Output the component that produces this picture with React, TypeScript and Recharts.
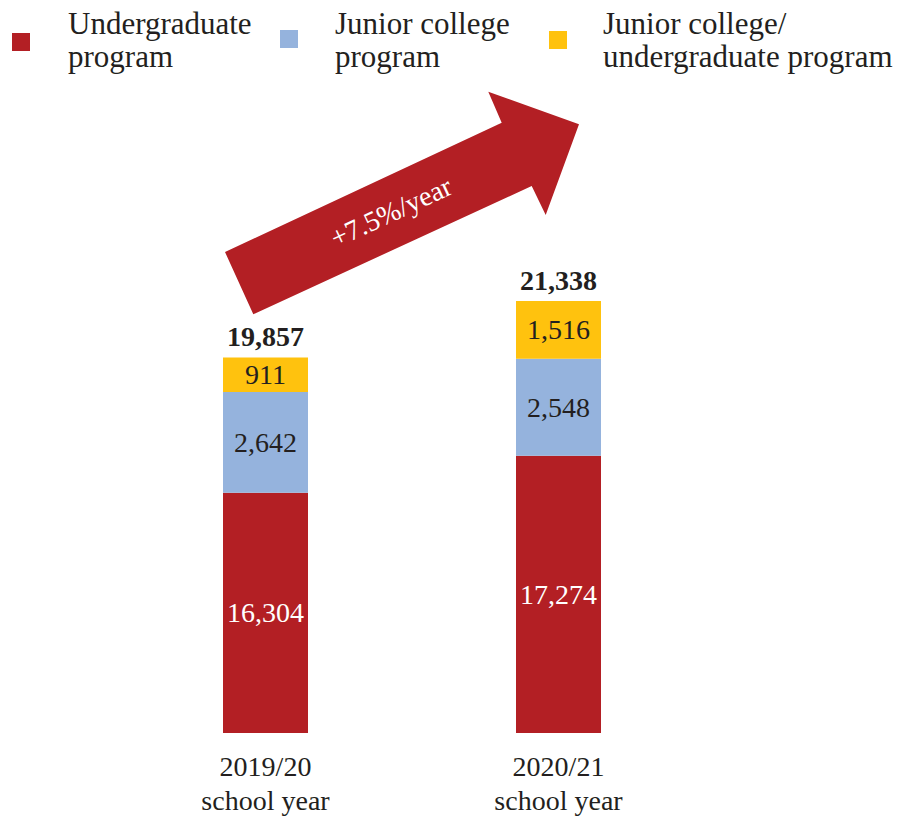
import React from 'react';
import { BarChart, Bar, XAxis, YAxis, LabelList, Legend, Customized } from 'recharts';

const categories = ['2019/20', '2020/21'];
const categorySub = ['school year', 'school year'];
const undergraduate = [16304, 17274];
const juniorCollege = [2642, 2548];
const juniorUndergrad = [911, 1516];
const totals = [19857, 21338];
const growthLabel = '+7.5%/year';
const legendItems = [
  { lines: ['Undergraduate', 'program'], color: '#B31F24' },
  { lines: ['Junior college', 'program'], color: '#95B3DD' },
  { lines: ['Junior college/', 'undergraduate program'], color: '#FFC20E' },
];

const data = categories.map((c, i) => ({
  name: c,
  sub: categorySub[i],
  ug: undergraduate[i],
  jc: juniorCollege[i],
  jcug: juniorUndergrad[i],
  total: totals[i],
}));

const RED = '#B31F24';
const BLUE = '#95B3DD';
const YELLOW = '#FFC20E';
const TEXT = '#231F20';
const FONT = '"Liberation Serif", "Times New Roman", serif';

const W = 901;
const H = 816;
const XAXIS_H = 83;
const PLOT_BOTTOM = H - XAXIS_H;

const fmt = (v: number) => v.toLocaleString('en-US');

const makeSegLabel = (fill: string) => (props: any) => {
  const { x, y, width, height, value } = props;
  const top = Math.min(y, y + height);
  const bottom = Math.min(Math.max(y, y + height), PLOT_BOTTOM);
  const cy = (top + bottom) / 2;
  return (
    <text
      x={x + width / 2}
      y={cy}
      textAnchor="middle"
      dominantBaseline="central"
      fill={fill}
      fontSize={28}
      fontFamily={FONT}
    >
      {fmt(Number(value))}
    </text>
  );
};

const TotalLabel = (props: any) => {
  const { x, y, width, height } = props;
  const idx = props.index;
  const top = Math.min(y, y + height);
  return (
    <text
      x={x + width / 2}
      y={top - 11}
      textAnchor="middle"
      fill={TEXT}
      fontSize={28}
      fontWeight="bold"
      fontFamily={FONT}
    >
      {fmt(totals[idx])}
    </text>
  );
};

const Tick = (props: any) => {
  const { x, y, payload, index } = props;
  return (
    <g>
      <text x={x} y={y + 43} textAnchor="middle" fill={TEXT} fontSize={28} fontFamily={FONT}>
        {payload.value}
      </text>
      <text x={x} y={y + 77} textAnchor="middle" fill={TEXT} fontSize={28} fontFamily={FONT}>
        {categorySub[index]}
      </text>
    </g>
  );
};

const legendPos = [
  { sx: 12, sy: 33, tx: 68 },
  { sx: 280, sy: 30, tx: 335 },
  { sx: 549, sy: 31, tx: 603 },
];

const LegendContent = () => (
  <svg width={W} height={90} style={{ display: 'block' }}>
    {legendItems.map((it, i) => (
      <g key={i}>
        <rect x={legendPos[i].sx} y={legendPos[i].sy} width={18} height={18} fill={it.color} />
        {it.lines.map((ln, j) => (
          <text
            key={j}
            x={legendPos[i].tx}
            y={34 + j * 33}
            fill={TEXT}
            fontSize={31}
            fontFamily={FONT}
          >
            {ln}
          </text>
        ))}
      </g>
    ))}
  </svg>
);

const GrowthArrow = () => (
  <g>
    <polygon
      points="225,252 501.7,122.7 488.3,91.7 579,124.3 545.7,215 531.7,186 253.3,314.3"
      fill={RED}
    />
    <text
      x={391}
      y={212}
      textAnchor="middle"
      dominantBaseline="central"
      fill="#FFFFFF"
      fontSize={28}
      fontFamily={FONT}
      transform="rotate(-25 391 212)"
    >
      {growthLabel}
    </text>
  </g>
);

export default function App() {
  return (
    <div style={{ position: 'absolute', left: 0, top: 0, width: W, height: H, background: '#fff' }}>
      <BarChart
        width={W}
        height={H}
        data={data}
        margin={{ top: 199.5, right: 196, bottom: 0, left: 119 }}
        barSize={85}
      >
        <XAxis
          dataKey="name"
          height={XAXIS_H}
          axisLine={false}
          tickLine={false}
          tickSize={0}
          tickMargin={0}
          interval={0}
          tick={<Tick />}
        />
        <YAxis hide domain={[10000, 24000]} allowDataOverflow type="number" />
        <Legend
          layout="horizontal"
          verticalAlign="middle"
          align="center"
          wrapperStyle={{ position: 'absolute', top: 0, left: 0, width: W, height: 90 }}
          content={<LegendContent />}
        />
        <Bar dataKey="ug" stackId="a" fill={RED} isAnimationActive={false}>
          <LabelList dataKey="ug" content={makeSegLabel('#FFFFFF')} />
        </Bar>
        <Bar dataKey="jc" stackId="a" fill={BLUE} isAnimationActive={false}>
          <LabelList dataKey="jc" content={makeSegLabel(TEXT)} />
        </Bar>
        <Bar dataKey="jcug" stackId="a" fill={YELLOW} isAnimationActive={false}>
          <LabelList dataKey="jcug" content={makeSegLabel(TEXT)} />
          <LabelList dataKey="total" content={<TotalLabel />} />
        </Bar>
        <Customized component={GrowthArrow} />
      </BarChart>
    </div>
  );
}
